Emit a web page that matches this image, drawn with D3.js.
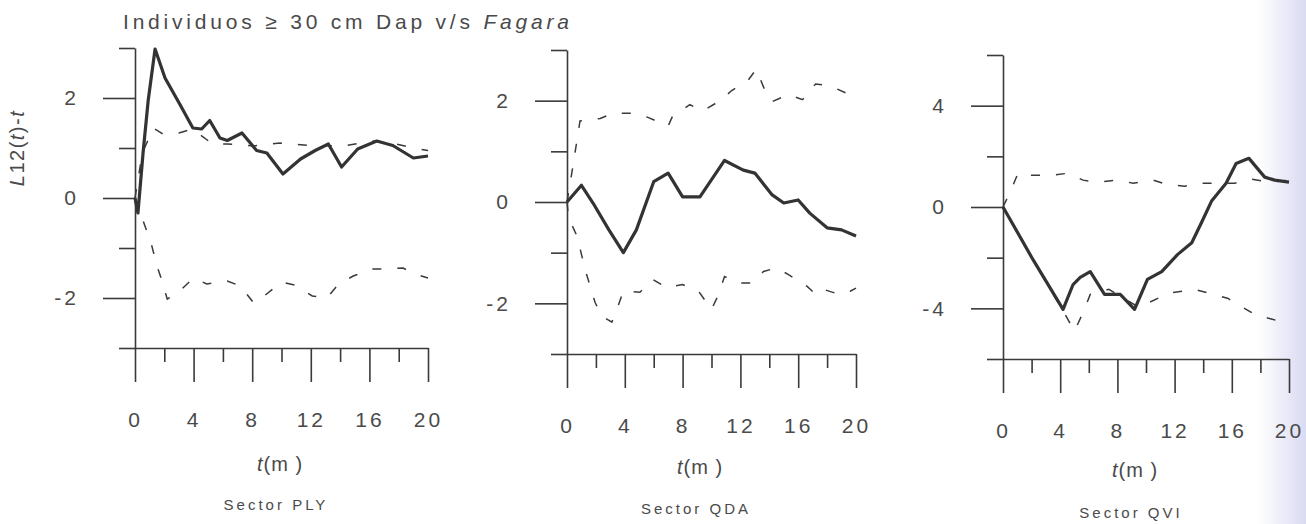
<!DOCTYPE html>
<html>
<head>
<meta charset="utf-8">
<style>
  body { margin: 0; background: #fff; }
  svg { display: block; }
  text { font-family: "Liberation Sans", Arial, sans-serif; fill: #4a4a4a; }
</style>
</head>
<body>
<script src="https://d3js.org/d3.v7.min.js"></script>
<script>
const W = 1306, H = 524;

const sectors = ["Sector PLY", "Sector QDA", "Sector QVI"];
const xTicks = [0, 4, 8, 12, 16, 20];
const xMinor = [2, 6, 10, 14, 18];
const yMajor = [[-2, 0, 2], [-2, 0, 2], [-4, 0, 4]];
const yMinor = [[-3, -1, 1, 3], [-3, -1, 1, 3], [-6, -2, 2, 6]];
const yDomains = [[-3, 3], [-3, 3], [-6, 6]];

const plyObs = [[0,0],[0.2,-0.3],[0.55,0.9],[0.9,1.95],[1.37,2.98],[2.05,2.4],[3.05,1.88],[3.95,1.4],[4.55,1.38],[5.1,1.55],[5.8,1.2],[6.3,1.15],[7.3,1.3],[8.3,0.95],[9,0.9],[10.1,0.48],[11.3,0.78],[12.3,0.95],[13.2,1.08],[14.1,0.62],[15.2,0.98],[16.5,1.14],[17.6,1.05],[19,0.8],[20,0.84]];
const plyUp = [[0,0],[0.5,0.9],[1.25,1.4],[1.9,1.28],[3,1.3],[3.9,1.38],[5.3,1.08],[6.3,1.08],[8.1,1.04],[9.9,1.1],[12,1.05],[14.2,1.04],[16.2,1.14],[17.5,1.1],[19,1.0],[20,0.95]];
const plyLo = [[0,0],[0.8,-0.66],[1.15,-0.96],[1.5,-1.36],[1.8,-1.62],[2.2,-2.02],[2.9,-1.9],[4,-1.6],[4.9,-1.72],[6.3,-1.66],[7.2,-1.76],[8.1,-2.1],[8.9,-1.94],[10,-1.68],[10.9,-1.74],[12.1,-1.96],[13.1,-2.0],[13.9,-1.72],[14.9,-1.56],[16.2,-1.42],[17.1,-1.42],[18.3,-1.4],[19.1,-1.52],[20,-1.6]];

const qdaObs = [[0,0],[1,0.33],[1.8,-0.02],[2.9,-0.55],[3.9,-1.0],[4.8,-0.55],[6,0.4],[7,0.57],[8,0.1],[9.2,0.1],[10.9,0.82],[12.2,0.63],[13,0.57],[14.2,0.14],[15,-0.02],[16,0.04],[16.8,-0.22],[18,-0.51],[19,-0.55],[20,-0.67]];
const qdaUp = [[0,0],[0.4,0.69],[0.9,1.6],[2.3,1.65],[3.2,1.75],[4.7,1.75],[5.6,1.67],[7,1.5],[7.3,1.69],[8.5,1.92],[9.4,1.8],[10.6,2.0],[11.4,2.2],[12.5,2.39],[13.1,2.62],[13.7,2.2],[14.2,1.98],[15.3,2.12],[16.3,2.02],[17.2,2.33],[18.2,2.29],[19.4,2.14],[20,2.3]];
const qdaLo = [[0,0],[0.1,-0.3],[0.7,-0.68],[1.25,-1.33],[1.94,-1.98],[2.4,-2.25],[3.1,-2.37],[3.45,-2.12],[3.9,-1.76],[5.05,-1.78],[5.95,-1.53],[6.9,-1.69],[8,-1.63],[9.1,-1.76],[10,-2.12],[10.5,-1.82],[10.9,-1.47],[11.8,-1.6],[12.8,-1.6],[13.6,-1.37],[14.5,-1.3],[15.3,-1.43],[16.6,-1.66],[17.2,-1.82],[17.7,-1.72],[18.8,-1.82],[19.6,-1.76],[20,-1.7]];

const qviObs = [[0,0],[2.1,-2.08],[4.2,-4.04],[4.9,-3.06],[5.4,-2.78],[6.1,-2.55],[7.1,-3.45],[8.2,-3.45],[9.2,-4.04],[10.1,-2.86],[11.1,-2.55],[12.2,-1.88],[13.2,-1.41],[13.9,-0.59],[14.6,0.25],[15.6,0.94],[16.3,1.72],[17.2,1.92],[18.3,1.18],[19,1.06],[20,0.98]];
const qviUp = [[0,0],[0.5,0.59],[1.05,1.33],[2,1.25],[3.4,1.25],[4.5,1.33],[5.6,1.06],[6.5,0.98],[8,1.06],[9.1,0.94],[10.5,1.06],[11.4,0.9],[12.7,0.82],[13.7,0.94],[15.1,0.94],[16.2,0.94],[17.4,1.1],[18.6,0.98],[20,1.06]];
const qviLo = [[0,0],[2.1,-2.1],[4.2,-4.1],[5,-4.9],[5.7,-4.04],[6.1,-3.45],[7.4,-3.25],[9.5,-3.96],[11.6,-3.4],[13.4,-3.25],[15.7,-3.6],[17.6,-4.24],[19.6,-4.55],[20,-4.65]];

const series = [[plyObs, plyUp, plyLo], [qdaObs, qdaUp, qdaLo], [qviObs, qviUp, qviLo]];

// panel placement in pixels
const layout = [
  {x: [135, 428], y: [348, 48], tm: 471, sec: 510, cx: 280},
  {x: [567, 856], y: [354, 50], tm: 474, sec: 514, cx: 700},
  {x: [1003, 1289], y: [359, 55], tm: 477, sec: 518, cx: 1135}
];

const svg = d3.select("body").append("svg").attr("width", W).attr("height", H);

// faint bluish scan edge on the right
const grad = svg.append("defs").append("linearGradient").attr("id", "edge");
grad.append("stop").attr("offset", "0%").attr("stop-color", "#fff");
grad.append("stop").attr("offset", "100%").attr("stop-color", "#dadaf3");
svg.append("rect").attr("x", 1258).attr("y", 0).attr("width", W - 1258).attr("height", H).attr("fill", "url(#edge)");

const title = svg.append("text").attr("x", 123).attr("y", 29)
  .attr("font-size", 21).attr("letter-spacing", 3.8);
title.append("tspan").text("Individuos ≥ 30 cm Dap v/s ");
title.append("tspan").attr("font-style", "italic").text("Fagara");

const ylab = svg.append("text").attr("transform", "translate(24,148) rotate(-90)")
  .attr("text-anchor", "middle").attr("font-size", 20).attr("letter-spacing", 1.5);
ylab.append("tspan").attr("font-style", "italic").text("L");
ylab.append("tspan").text("12(");
ylab.append("tspan").attr("font-style", "italic").text("t");
ylab.append("tspan").text(")-");
ylab.append("tspan").attr("font-style", "italic").text("t");

layout.forEach((L, i) => {
  const x = d3.scaleLinear().domain([0, 20]).range(L.x);
  const y = d3.scaleLinear().domain(yDomains[i]).range(L.y);
  const g = svg.append("g");
  const fmt = d => String(d);

  g.append("g").attr("transform", `translate(0,${L.y[0]})`)
    .call(d3.axisBottom(x).tickValues(xTicks).tickFormat(fmt).tickSize(34).tickPadding(30).tickSizeOuter(0));
  g.append("g").attr("transform", `translate(0,${L.y[0]})`)
    .call(d3.axisBottom(x).tickValues(xMinor).tickSize(14).tickFormat(""))
    .call(a => a.select(".domain").remove());

  g.append("g").attr("transform", `translate(${L.x[0]},0)`)
    .call(d3.axisLeft(y).tickValues(yMajor[i]).tickFormat(fmt).tickSize(32).tickPadding(24).tickSizeOuter(0));
  g.append("g").attr("transform", `translate(${L.x[0]},0)`)
    .call(d3.axisLeft(y).tickValues(yMinor[i]).tickSize(16).tickFormat(""))
    .call(a => a.select(".domain").remove());

  g.selectAll(".tick line, .domain").attr("stroke", "#3a3a3a").attr("stroke-width", 1.6);
  g.selectAll(".tick text").attr("font-size", 21).attr("letter-spacing", 3)
    .attr("font-family", "Liberation Sans, Arial, sans-serif");

  const line = d3.line().x(d => x(d[0])).y(d => y(d[1]));
  const [obs, up, lo] = series[i];
  [up, lo].forEach(s => {
    g.append("path").datum(s).attr("d", line).attr("fill", "none")
      .attr("stroke", "#3a3a3a").attr("stroke-width", 1.5).attr("stroke-dasharray", "9,16");
  });
  g.append("path").datum(obs).attr("d", line).attr("fill", "none")
    .attr("stroke", "#333").attr("stroke-width", 3.2).attr("stroke-linejoin", "round");

  const tm = g.append("text").attr("x", L.cx).attr("y", L.tm).attr("text-anchor", "middle")
    .attr("font-size", 20).attr("letter-spacing", 1);
  tm.append("tspan").attr("font-style", "italic").text("t");
  tm.append("tspan").text("(m )");

  g.append("text").attr("x", L.cx - 4).attr("y", L.sec).attr("text-anchor", "middle")
    .attr("font-size", 15).attr("letter-spacing", 3).text(sectors[i]);
});
</script>
</body>
</html>
